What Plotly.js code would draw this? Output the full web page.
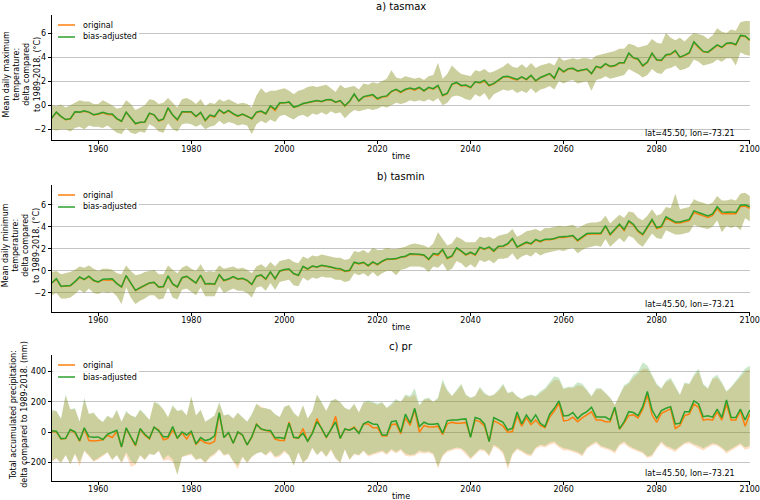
<!DOCTYPE html>
<html>
<head>
<meta charset="utf-8">
<script src="https://cdn.plot.ly/plotly-3.0.1.min.js"></script>
<style>html,body{margin:0;padding:0;background:#fff;}#chart{width:760px;height:500px;}</style>
</head>
<body>
<div id="chart"></div>
<script>
// ---------------- DATA ----------------
const firstYear = 1950, lastYear = 2100;
const years = [];
for (let y = firstYear; y <= lastYear; y++) years.push(y);
const xTickVals = [1960, 1980, 2000, 2020, 2040, 2060, 2080, 2100];
const seriesNames = ['original', 'bias-adjusted'];
const panelTitles = ['a) tasmax', 'b) tasmin', 'c) pr'];
const yLabels = [
  'Mean daily maximum<br>temperature:<br>delta compared<br>to 1989-2018. (°C)',
  'Mean daily minimum<br>temperature:<br>delta compared<br>to 1989-2018. (°C)',
  'Total accumulated precipitation:<br>delta compared to 1989-2018. (mm)'
];
const locationText = 'lat=45.50, lon=-73.21';
const xLabel = 'time';

// a) tasmax
const tasmaxAdj = [
 -1.07,-0.58,-0.93,-1.2,-1.12,-0.55,-0.58,-0.47,-0.58,-0.8,
 -0.71,-0.6,-0.71,-0.74,-1.12,-1.34,-0.58,-1.07,-1.53,-1.42,
 -1.4,-0.66,-0.8,-1.29,-1.15,-0.22,-0.82,-1.2,-0.55,-0.55,
 -0.55,-0.93,-0.6,-1.26,-0.82,-0.93,-0.38,-0.66,-0.44,-0.71,
 -0.9,-0.74,-0.9,-1.12,-0.58,-0.49,-0.71,-0.05,-0.33,0.19,
 0.19,0.27,-0.16,-0.05,0.14,0.19,0.3,0.38,0.3,0.44,
 0.47,0.25,0.38,-0.05,0.33,0.93,0.36,0.71,0.77,0.88,
 0.55,0.71,0.77,1.15,1.32,1.1,1.32,1.42,1.32,1.48,
 1.2,1.48,1.37,1.64,0.82,0.99,1.75,1.89,1.64,1.67,
 1.48,1.95,1.89,2.08,1.64,1.81,2.08,2.36,2.41,2.25,
 2.14,2.36,2.14,2.49,2.03,2.3,2.47,2.63,2.25,3.1,
 2.79,3.04,3.07,2.85,2.93,3.01,2.63,3.23,3.12,3.45,
 3.23,3.29,3.53,3.53,4.33,3.95,3.84,3.29,3.59,4.33,
 3.78,3.73,4.19,4.25,4.55,4.0,4.16,4.36,5.26,4.82,
 4.47,4.41,4.68,5.01,4.82,5.15,5.18,5.04,5.8,5.75,
 5.42];
const tasmaxOrig = [
 -1.1,-0.6,-0.95,-1.22,-1.15,-0.58,-0.6,-0.5,-0.6,-0.82,
 -0.75,-0.63,-0.78,-0.8,-1.15,-1.36,-0.6,-1.1,-1.56,-1.45,
 -1.42,-0.7,-0.83,-1.32,-1.18,-0.25,-0.85,-1.25,-0.6,-0.6,
 -0.6,-0.97,-0.62,-1.3,-0.88,-1.0,-0.42,-0.7,-0.47,-0.75,
 -0.93,-0.77,-0.92,-1.15,-0.62,-0.53,-0.73,-0.1,-0.45,0.15,
 0.17,0.24,-0.18,-0.08,0.12,0.17,0.28,0.36,0.28,0.42,
 0.45,0.22,0.35,-0.08,0.3,0.9,0.33,0.68,0.72,0.82,
 0.48,0.68,0.72,1.12,1.28,1.05,1.28,1.38,1.25,1.45,
 1.17,1.45,1.33,1.6,0.78,0.95,1.72,1.86,1.6,1.63,
 1.45,1.92,1.85,2.0,1.6,1.77,2.04,2.33,2.37,2.2,
 2.1,2.33,2.1,2.46,2.0,2.27,2.44,2.6,2.2,3.06,
 2.76,3.0,3.04,2.82,2.9,2.98,2.6,3.2,3.08,3.42,
 3.2,3.26,3.5,3.5,4.3,3.92,3.8,3.25,3.55,4.3,
 3.75,3.7,4.15,4.22,4.5,3.95,4.12,4.32,5.22,4.78,
 4.44,4.38,4.65,4.97,4.78,5.1,5.14,5.0,5.76,5.72,
 5.38];
const tasmaxHigh = [
 0.0,-0.1,0.05,-0.2,0.0,0.2,0.4,0.3,0.3,0.1,
 0.1,0.4,0.2,0.0,-0.3,-0.2,0.4,0.1,-0.4,-0.2,
 0.0,0.5,0.4,0.1,0.2,0.6,0.2,-0.2,0.5,0.6,
 0.4,0.1,0.5,-0.1,0.2,0.1,0.5,0.3,0.5,0.3,
 0.1,0.2,0.1,-0.2,0.8,1.4,1.0,1.2,1.2,1.3,
 1.4,1.2,0.9,1.2,1.3,1.5,1.6,1.5,1.6,1.7,
 1.4,1.1,1.7,1.4,1.5,1.6,1.3,1.8,1.7,1.9,
 1.8,2.0,2.2,2.9,2.3,2.2,2.4,2.3,2.2,2.3,
 2.1,2.4,2.5,3.5,2.2,2.6,3.3,2.9,2.6,2.5,
 2.4,2.9,2.8,3.0,2.7,2.8,3.0,3.2,3.5,3.2,
 3.1,3.4,3.1,3.5,3.1,3.3,3.4,3.5,3.3,4.0,
 3.7,3.8,3.9,3.8,3.9,3.9,3.8,4.1,4.2,4.3,
 4.4,4.5,4.7,4.7,5.1,5.0,4.8,4.9,5.0,5.5,
 5.2,5.1,6.0,5.6,5.4,5.6,5.3,5.7,6.0,5.9,
 5.8,5.5,5.8,6.4,6.1,6.0,6.3,6.2,6.9,7.0,
 7.0];
const tasmaxLow = [
 -2.0,-2.1,-2.0,-2.0,-2.2,-1.9,-1.8,-2.0,-1.7,-1.8,
 -1.8,-1.9,-1.7,-2.0,-2.3,-2.4,-1.9,-2.3,-2.4,-2.2,
 -2.3,-1.6,-1.8,-2.2,-2.3,-1.5,-2.0,-2.2,-1.6,-1.5,
 -1.6,-1.8,-1.6,-2.0,-1.8,-1.7,-1.3,-1.6,-1.4,-1.5,
 -1.7,-1.6,-1.7,-2.4,-1.6,-1.3,-1.5,-1.2,-1.4,-0.9,
 -0.8,-1.0,-1.2,-0.9,-0.8,-1.0,-0.7,-0.8,-0.6,-0.8,
 -0.5,-0.7,-0.6,-1.1,-0.7,-0.4,-0.5,-0.4,-0.3,-0.4,
 -0.3,-0.1,-0.2,0.0,0.2,0.1,0.2,0.4,0.3,0.4,
 0.3,0.5,0.3,0.6,0.0,0.2,0.7,0.8,0.7,0.5,
 0.4,0.9,0.7,1.0,0.4,0.9,1.1,1.3,1.2,1.3,
 1.0,1.2,1.0,1.4,1.0,1.3,1.4,1.6,1.3,2.0,
 1.8,2.0,2.1,1.8,1.9,2.0,1.2,2.1,2.2,2.4,
 2.2,2.3,2.4,2.5,3.0,2.8,2.6,2.3,2.5,3.0,
 2.7,2.6,3.0,3.1,3.3,2.9,3.0,3.2,3.8,3.6,
 3.3,3.4,3.5,3.8,3.6,3.9,3.9,3.3,4.4,4.2,
 4.1];

// b) tasmin
const tasminAdj = [
 -1.09,-0.7,-1.39,-1.36,-1.33,-0.97,-0.55,-0.76,-0.48,-0.85,
 -1.0,-0.76,-0.76,-0.7,-1.15,-1.45,-0.42,-1.15,-1.76,-1.52,
 -1.33,-1.09,-1.03,-1.45,-1.42,-0.45,-1.18,-1.45,-0.61,-0.48,
 -0.79,-1.09,-0.39,-1.18,-1.15,-1.21,-0.33,-0.85,-0.73,-0.52,
 -0.73,-0.67,-0.85,-1.21,-0.48,-0.36,-0.73,-0.09,-0.7,0.0,
 0.12,0.18,-0.24,-0.39,0.42,0.18,0.45,0.36,0.52,0.45,
 0.36,0.24,0.21,0.0,0.06,0.79,0.67,0.79,0.48,0.82,
 0.6,0.88,1.09,1.09,1.12,1.27,1.33,1.55,1.55,1.52,
 1.45,1.06,1.58,1.52,1.94,1.18,1.36,2.09,1.82,1.48,
 1.7,1.48,2.15,2.0,2.18,1.82,2.24,2.27,2.48,2.94,
 2.18,2.39,2.61,2.48,2.85,2.7,2.88,2.88,2.94,3.09,
 3.09,3.15,3.21,2.79,3.09,3.39,3.42,3.42,3.42,4.12,
 3.33,3.79,4.24,3.76,4.55,4.24,3.64,3.33,4.0,4.67,
 3.94,4.06,4.91,4.7,4.45,4.45,4.58,4.67,5.45,5.27,
 5.15,5.0,5.18,5.82,5.36,5.33,5.36,5.3,5.97,6.0,
 5.82];
const tasminOrig = [
 -1.12,-0.75,-1.42,-1.38,-1.35,-1.0,-0.6,-0.8,-0.52,-0.9,
 -1.03,-0.8,-0.85,-0.8,-1.18,-1.47,-0.45,-1.17,-1.78,-1.55,
 -1.36,-1.1,-1.05,-1.47,-1.44,-0.48,-1.2,-1.47,-0.65,-0.5,
 -0.82,-1.12,-0.42,-1.2,-1.17,-1.23,-0.38,-0.9,-0.76,-0.56,
 -0.76,-0.7,-0.88,-1.24,-0.5,-0.4,-0.77,-0.12,-0.72,-0.03,
 0.09,0.15,-0.27,-0.42,0.38,0.15,0.42,0.33,0.48,0.42,
 0.33,0.2,0.15,-0.05,0.02,0.75,0.63,0.75,0.44,0.78,
 0.56,0.84,1.03,1.05,1.08,1.23,1.29,1.5,1.5,1.46,
 1.4,1.02,1.52,1.4,1.9,1.1,1.32,2.04,1.78,1.43,
 1.64,1.43,2.1,1.95,2.14,1.76,2.2,2.22,2.44,2.9,
 2.14,2.34,2.56,2.43,2.8,2.64,2.84,2.84,2.9,3.05,
 3.04,3.1,3.16,2.72,3.02,3.32,3.36,3.36,3.36,4.06,
 3.26,3.72,4.16,3.66,4.48,4.16,3.56,3.26,3.92,4.58,
 3.84,3.98,4.8,4.6,4.35,4.36,4.46,4.56,5.3,5.12,
 5.0,4.86,5.04,5.65,5.2,5.18,5.2,5.18,5.85,5.88,
 5.68];
const tasminHigh = [
 -0.1,0.0,-0.3,-0.2,-0.1,0.1,0.4,0.3,0.5,0.2,
 0.0,0.2,0.2,0.1,-0.2,-0.3,0.5,0.0,-0.4,-0.3,
 -0.1,0.0,0.1,-0.3,-0.3,0.5,0.1,-0.2,0.3,0.5,
 0.2,0.0,0.6,-0.1,0.0,-0.1,0.5,0.2,0.3,0.4,
 0.2,0.3,0.1,-0.2,0.4,0.6,0.3,0.8,0.4,0.9,
 1.0,1.1,0.8,0.7,1.3,1.1,1.4,1.3,1.5,1.4,
 1.3,1.2,1.2,1.0,1.1,1.8,1.7,1.9,1.6,2.1,
 1.9,1.9,2.1,2.0,2.0,2.1,2.2,2.4,2.5,2.4,
 2.3,2.1,2.5,3.5,2.9,2.3,2.5,3.1,2.9,2.6,
 2.6,2.6,3.1,3.0,3.1,2.9,3.2,3.3,3.4,3.8,
 3.1,3.3,3.6,3.7,3.8,3.6,3.9,3.9,4.0,4.1,
 4.0,4.1,4.2,3.9,4.1,4.3,4.4,4.4,4.5,5.0,
 4.3,4.7,5.1,4.8,5.4,5.3,4.8,4.6,5.0,5.6,
 5.0,5.2,5.8,5.7,7.0,5.6,5.7,5.8,6.5,6.3,
 6.2,6.0,6.2,6.8,6.4,6.4,6.5,6.4,7.0,7.1,
 6.8];
const tasminLow = [
 -2.2,-2.0,-2.5,-2.5,-2.4,-2.1,-1.7,-2.0,-1.6,-2.0,
 -2.1,-1.9,-2.0,-1.9,-2.3,-3.0,-1.5,-2.4,-3.0,-2.7,
 -2.5,-2.2,-2.2,-2.6,-2.5,-1.5,-2.4,-2.6,-1.7,-1.6,
 -1.9,-2.2,-1.5,-2.3,-2.3,-2.3,-1.4,-2.0,-1.8,-1.6,
 -1.8,-1.8,-2.0,-2.4,-1.5,-1.4,-1.8,-1.1,-1.7,-1.0,
 -0.9,-0.8,-1.3,-1.4,-0.6,-0.9,-0.6,-0.7,-0.5,-0.6,
 -0.6,-0.8,-0.8,-1.0,-0.9,-0.2,-0.4,-0.2,-0.5,-0.1,
 -0.5,-0.2,0.0,0.0,-0.4,0.1,0.2,0.4,0.4,0.4,
 0.3,-0.1,0.4,0.3,0.7,0.0,0.2,0.9,0.7,0.3,
 0.6,0.3,1.0,0.8,1.0,0.7,1.1,1.1,1.2,1.6,
 1.0,1.3,1.5,1.3,1.7,1.4,1.6,1.7,1.8,1.9,
 1.8,2.0,2.1,1.6,1.9,2.1,2.2,2.3,2.2,2.9,
 2.2,2.6,3.0,2.6,3.2,3.0,2.5,2.2,2.8,3.4,
 3.0,2.9,3.7,3.5,3.3,3.3,3.4,3.5,4.2,4.0,
 3.9,3.8,4.0,4.6,3.5,4.1,3.9,4.1,3.7,4.8,
 4.5];

// c) pr
const prAdj = [
 9,7,-42,-40,18,2,-55,29,-29,-33,
 -31,-48,-13,-2,13,-97,29,-29,-84,24,
 -13,-40,33,9,-29,-29,37,-40,2,-18,
 7,-77,-35,-55,-46,-24,130,-35,-2,-73,
 2,-18,-84,-29,51,22,13,11,-37,-35,
 -42,59,-33,-37,-7,-59,-7,70,26,-33,
 20,68,-40,22,13,29,-7,55,70,55,
 51,-18,-18,70,75,0,119,60,158,37,
 66,53,53,57,-7,77,81,81,86,88,
 -33,97,88,55,-62,97,81,66,15,26,
 134,55,114,70,115,59,37,119,158,207,
 108,110,130,90,119,136,165,101,101,100,
 81,165,22,70,136,130,110,169,270,147,
 92,143,158,169,55,59,136,136,207,187,
 103,108,99,152,97,213,97,97,152,81,
 147];
const prOrig = [
 5,3,-45,-42,15,-5,-60,25,-55,-58,
 -55,-50,-20,-35,5,-97,25,-35,-90,20,
 -20,-45,33,15,-50,-40,15,-40,-5,-45,
 0,-80,-50,-70,-75,-60,125,-35,-5,-73,
 0,-20,-84,-35,55,20,10,5,-45,-55,
 -55,68,-35,-40,25,-60,-5,90,20,-35,
 15,105,-40,20,15,35,-5,55,55,30,
 30,-25,-25,50,55,-10,95,45,150,0,
 45,35,35,40,-15,55,65,60,60,65,
 -30,80,70,40,-60,75,60,40,0,5,
 110,40,95,50,80,45,30,100,140,190,
 75,80,100,70,95,115,135,80,80,70,
 70,160,20,60,110,115,95,150,245,115,
 65,125,140,155,25,45,110,120,185,165,
 80,85,80,135,80,185,80,80,140,40,
 120];
const prAdjHigh = [
 150,140,90,250,150,160,70,230,120,130,
 90,70,110,90,150,70,140,110,100,150,
 120,80,200,190,150,100,180,140,150,110,
 240,110,150,70,90,110,200,110,120,90,
 130,100,70,120,190,160,160,150,120,100,
 170,180,130,100,180,90,140,250,200,140,
 210,220,200,160,150,190,130,200,210,200,
 190,200,160,190,220,200,250,240,290,180,
 220,230,200,230,350,280,240,280,320,250,
 230,240,300,260,240,250,280,320,260,270,
 240,220,240,250,240,270,290,330,370,360,
 290,300,300,330,320,280,240,290,290,260,
 230,180,250,310,330,380,400,460,440,380,
 320,290,340,360,300,250,330,320,380,420,
 320,290,360,380,330,270,300,340,380,420,
 440];
const prAdjLow = [
 -190,-170,-200,-150,-210,-140,-200,-120,-150,-190,
 -170,-150,-130,-180,-150,-200,-130,-190,-210,-150,
 -180,-140,-150,-120,-180,-150,-180,-280,-160,-150,
 -140,-180,-170,-200,-160,-140,-110,-150,-140,-190,
 -220,-160,-200,-160,-140,-130,-150,-120,-160,-150,
 -120,-150,-220,-130,-200,-170,-100,-150,-120,-160,
 -110,-170,-200,-110,-180,-140,-150,-120,-150,-140,
 -130,-120,-140,-110,-130,-110,-140,-150,-145,-120,
 -130,-125,-140,-225,-150,-120,-110,-100,-105,-130,
 -170,-140,-110,-116,-150,-83,-100,-130,-225,-140,
 -105,-120,-140,-149,-100,-83,-90,-70,-61,-90,
 -105,-110,-120,-130,-149,-100,-80,-61,-90,-100,
 -110,-127,-80,-61,-90,-105,-120,-130,-160,-150,
 -100,-61,-90,-100,-116,-90,-70,-61,-80,-90,
 -105,-90,-72,-80,-100,-127,-110,-90,-72,-100,
 -90];
const prOrigHigh = [
 135,140,85,240,150,150,70,215,120,125,
 90,65,105,90,140,70,130,110,95,145,
 115,80,200,180,150,95,170,140,145,110,
 230,110,145,70,85,110,190,110,115,90,
 125,100,70,115,185,170,155,150,115,100,
 165,180,125,100,175,90,135,245,195,140,
 200,220,195,160,145,185,130,195,200,195,
 180,195,160,180,210,200,240,230,250,175,
 215,220,200,220,330,270,240,270,310,245,
 225,240,290,250,240,245,270,310,255,265,
 235,220,235,245,235,260,280,315,345,345,
 280,295,290,310,305,275,235,280,285,255,
 225,180,245,300,320,360,385,420,420,370,
 310,285,330,345,295,245,320,315,370,400,
 310,285,350,360,320,265,295,330,360,400,
 420];
const prOrigLow = [
 -195,-175,-205,-150,-215,-145,-225,-125,-160,-195,
 -180,-155,-135,-185,-150,-205,-150,-230,-215,-155,
 -185,-145,-150,-125,-190,-180,-195,-280,-165,-155,
 -150,-185,-175,-205,-170,-150,-115,-155,-145,-195,
 -245,-165,-205,-165,-140,-130,-155,-130,-170,-160,
 -130,-155,-220,-135,-205,-175,-105,-150,-125,-165,
 -120,-175,-205,-115,-185,-145,-155,-125,-160,-150,
 -140,-130,-150,-120,-140,-120,-155,-160,-155,-135,
 -140,-135,-150,-240,-160,-130,-120,-110,-115,-145,
 -180,-150,-120,-125,-160,-95,-110,-145,-245,-150,
 -115,-130,-150,-160,-110,-95,-100,-85,-75,-100,
 -120,-120,-130,-140,-160,-110,-90,-75,-100,-110,
 -120,-140,-90,-75,-100,-115,-130,-140,-170,-160,
 -110,-75,-100,-115,-130,-100,-80,-75,-90,-100,
 -120,-100,-85,-90,-110,-140,-120,-100,-85,-115,
 -105];

// ---------------- STYLE / LAYOUT ----------------
const W = 760, H = 500;
const FONT = 'DejaVu Sans, Liberation Sans, sans-serif';
const ORANGE = '#ff7f0e', GREEN = '#2ca02c';
const ORANGE_FILL = 'rgba(255,127,14,0.25)', GREEN_FILL = 'rgba(44,160,44,0.25)';
const px = x => x / W;
const py = y => 1 - y / H;

const plotLeft = 51.7, plotRight = 750;
const panelsPx = [[15, 140], [185, 311.7], [355, 480.7]];
const yRanges = [[-2.9, 7.5], [-3.7, 7.8], [-320, 510]];
const yTicks = [[-2, 0, 2, 4, 6], [-2, 0, 2, 4, 6], [-200, 0, 200, 400]];

const panels = [
  {orig: tasmaxOrig, adj: tasmaxAdj, oHi: tasmaxHigh, oLo: tasmaxLow, aHi: tasmaxHigh, aLo: tasmaxLow},
  {orig: tasminOrig, adj: tasminAdj, oHi: tasminHigh, oLo: tasminLow, aHi: tasminHigh, aLo: tasminLow},
  {orig: prOrig, adj: prAdj, oHi: prOrigHigh, oLo: prOrigLow, aHi: prAdjHigh, aLo: prAdjLow}
];

const traces = [];
const layout = {
  width: W, height: H,
  margin: {l: 0, r: 0, t: 0, b: 0},
  paper_bgcolor: '#fff', plot_bgcolor: '#fff',
  font: {family: FONT, size: 8, color: '#000'},
  showlegend: false,
  annotations: [], shapes: []
};

panels.forEach((p, i) => {
  const xa = i === 0 ? 'x' : 'x' + (i + 1);
  const ya = i === 0 ? 'y' : 'y' + (i + 1);
  const base = {x: years, xaxis: xa, yaxis: ya, type: 'scatter', mode: 'lines', hoverinfo: 'skip', showlegend: false};
  traces.push(Object.assign({}, base, {y: p.oLo, line: {width: 0, color: ORANGE}}));
  traces.push(Object.assign({}, base, {y: p.oHi, line: {width: 0, color: ORANGE}, fill: 'tonexty', fillcolor: ORANGE_FILL}));
  traces.push(Object.assign({}, base, {y: p.aLo, line: {width: 0, color: GREEN}}));
  traces.push(Object.assign({}, base, {y: p.aHi, line: {width: 0, color: GREEN}, fill: 'tonexty', fillcolor: GREEN_FILL}));
  traces.push(Object.assign({}, base, {y: p.orig, name: seriesNames[0], line: {width: 1.5, color: ORANGE}}));
  traces.push(Object.assign({}, base, {y: p.adj, name: seriesNames[1], line: {width: 1.5, color: GREEN}}));

  const [top, bot] = panelsPx[i];
  const xKey = i === 0 ? 'xaxis' : 'xaxis' + (i + 1);
  const yKey = i === 0 ? 'yaxis' : 'yaxis' + (i + 1);
  layout[xKey] = {
    domain: [px(plotLeft), px(plotRight)], anchor: ya,
    range: [firstYear, lastYear + 0.05], tickmode: 'array', tickvals: xTickVals,
    ticks: 'outside', ticklen: 3, tickwidth: 1, tickcolor: '#000',
    ticklabelstandoff: -2, ticklabeloverflow: 'allow',
    showline: true, linecolor: '#000', linewidth: 1, mirror: false,
    showgrid: false, zeroline: false, tickfont: {size: 8, color: '#000'}
  };
  layout[yKey] = {
    domain: [py(bot), py(top)], anchor: xa,
    range: yRanges[i], tickmode: 'array', tickvals: yTicks[i],
    ticks: 'outside', ticklen: 3, tickwidth: 1, tickcolor: '#000',
    showline: true, linecolor: '#000', linewidth: 1, mirror: false,
    showgrid: true, gridcolor: '#c4c4c4', gridwidth: 1,
    zeroline: false, tickfont: {size: 8, color: '#000'}
  };

  const cx = (plotLeft + plotRight) / 2;
  const ann = layout.annotations;
  const common = {xref: 'paper', yref: 'paper', showarrow: false};
  ann.push(Object.assign({}, common, {text: panelTitles[i], x: px(cx), y: py(top - 9), xanchor: 'center', yanchor: 'middle', font: {size: 10}}));
  ann.push(Object.assign({}, common, {text: xLabel, x: px(cx), y: py(bot + 16), xanchor: 'center', yanchor: 'middle', font: {size: 8}}));
  ann.push(Object.assign({}, common, {text: yLabels[i], x: px(i === 2 ? 19 : 21), y: py((top + bot) / 2 - 3), xanchor: 'center', yanchor: 'middle', textangle: -90, font: {size: 8}}));
  ann.push(Object.assign({}, common, {text: locationText, x: px(737), y: py(bot - 7), xanchor: 'right', yanchor: 'middle', font: {size: 8}}));
  const l1 = top + 10, l2 = top + 22;
  layout.shapes.push({type: 'rect', xref: 'paper', yref: 'paper', layer: 'above',
    x0: px(53), x1: px(139), y0: py(top + 2), y1: py(top + 29), fillcolor: 'rgba(255,255,255,0.85)', line: {width: 0}});
  layout.shapes.push({type: 'line', xref: 'paper', yref: 'paper', layer: 'above',
    x0: px(58), x1: px(75), y0: py(l1), y1: py(l1), line: {color: ORANGE, width: 1.5}});
  layout.shapes.push({type: 'line', xref: 'paper', yref: 'paper', layer: 'above',
    x0: px(58), x1: px(75), y0: py(l2), y1: py(l2), line: {color: GREEN, width: 1.5}});
  ann.push(Object.assign({}, common, {text: seriesNames[0], x: px(81), y: py(l1), xanchor: 'left', yanchor: 'middle', font: {size: 8}}));
  ann.push(Object.assign({}, common, {text: seriesNames[1], x: px(81), y: py(l2), xanchor: 'left', yanchor: 'middle', font: {size: 8}}));
});

const allArrays = {tasmaxAdj, tasmaxOrig, tasmaxHigh, tasmaxLow, tasminAdj, tasminOrig, tasminHigh, tasminLow, prAdj, prOrig, prAdjHigh, prAdjLow, prOrigHigh, prOrigLow};
const bad = Object.keys(allArrays).filter(k => allArrays[k].length !== years.length).map(k => k + ':' + allArrays[k].length);
if (bad.length) layout.annotations.push({xref: 'paper', yref: 'paper', x: 0.5, y: 0.5, showarrow: false, text: 'LEN ' + bad.join(' '), font: {size: 14, color: 'red'}});

Plotly.newPlot('chart', traces, layout, {staticPlot: true, displayModeBar: false});
</script>
</body>
</html>
